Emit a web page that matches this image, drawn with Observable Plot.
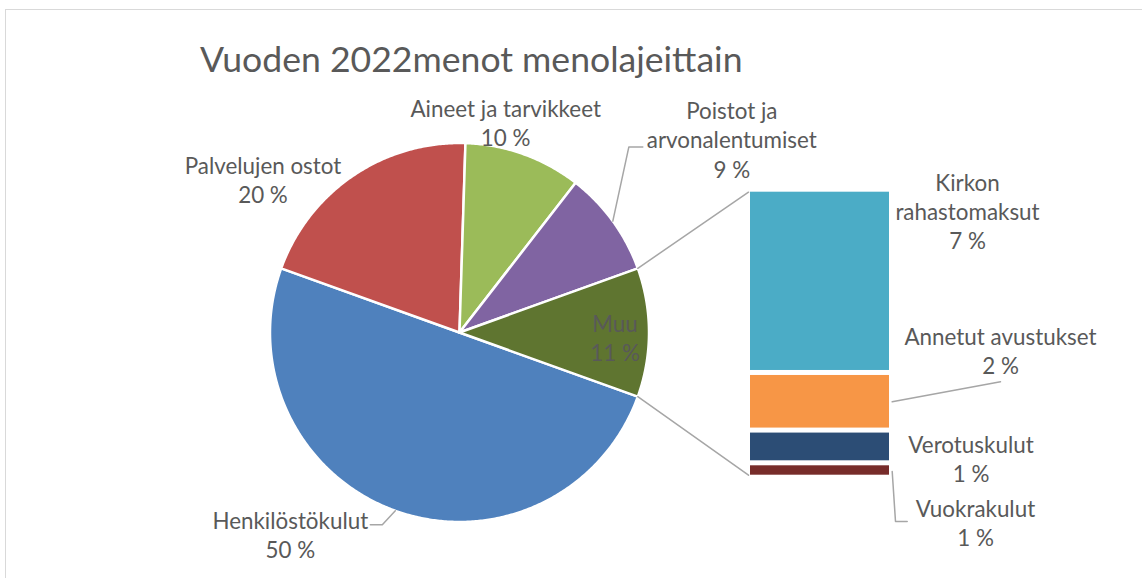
<!DOCTYPE html>
<html><head><meta charset="utf-8">
<script src="https://cdn.jsdelivr.net/npm/d3@7"></script>
<script src="https://cdn.jsdelivr.net/npm/@observablehq/plot@0.6"></script>
<style>
body{margin:0;background:#fff;}
#wrap{position:relative;width:1142px;height:578px;overflow:hidden;background:#fff;}
#border{position:absolute;left:5px;top:9px;width:1160px;height:620px;border:1.5px solid #d9d9d9;box-sizing:border-box;}
#title{position:absolute;left:200px;top:40.5px;font-family:Lato;font-size:35.6px;line-height:35.6px;color:#595959;white-space:nowrap;}
#chart{position:absolute;left:0;top:0;}
</style></head><body>
<div id="wrap"><div id="border"></div><div id="chart"></div><div id="title">Vuoden 2022menot menolajeittain</div></div>
<script>
// ---- data ----
const pieNames  = ["Henkilöstökulut","Palvelujen ostot","Aineet ja tarvikkeet","Poistot ja arvonalentumiset","Muu"];
const pieLabels = ["Henkilöstökulut","Palvelujen ostot","Aineet ja tarvikkeet","Poistot ja\narvonalentumiset","Muu"];
const pieValues = [50, 20, 10, 9, 11];
const barNames  = ["Kirkon rahastomaksut","Annetut avustukset","Verotuskulut","Vuokrakulut"];
const barLabels = ["Kirkon\nrahastomaksut","Annetut avustukset","Verotuskulut","Vuokrakulut"];
const barValues = [7.0, 2.2, 1.25, 0.55];

// ---- styles / layout ----
const pieColors = ["#4F81BD","#C0504D","#9BBB59","#8064A2","#5F7530"];
const barColors = ["#4BACC6","#F79646","#2C4D75","#772C2A"];
const W = 1142, H = 578, CX = 459, CY = 332, R = 189.5;
const BAR = {left: 750, right: 889, top: 189.2, bottom: 477.2, gap: 2.5};
// label offsets (pixels) from slice arc midpoint / bar segment right-edge midpoint
const pieLabelOff = [[-105, 23], [-90, 3], [-18, -32], [119, -82], [-34, 4.5]];
const barLabelOff = [[78, -71], [111, -52], [81.5, 11.6], [86, 51.7]];
const pieLeaderOff = {0: [[-13, 14], [-25, 14]], 3: [[16, -74], [30, -74]]};
const barLeaderOff = {1: [[2.7, 0], [111, -20]], 3: [[2.7, 1], [6, 51], [17.7, 51]]};

const toU = (px, py) => [(px - CX) / R, (CY - py) / R];
const pieData = pieNames.map((n, i) => ({name: n, label: pieLabels[i], value: pieValues[i]}));
const barData = barNames.map((n, i) => ({name: n, label: barLabels[i], value: barValues[i]}));
const total = d3.sum(pieValues);
const muu = pieData[4];

const start = Math.PI / 2 + Math.PI * muu.value / total;
const arcs = d3.pie().sort(null).value(d => d.value).startAngle(start).endAngle(start + 2 * Math.PI)(pieData);

const slicePts = arcs.flatMap(a => {
  const n = Math.max(2, Math.ceil((a.endAngle - a.startAngle) / (Math.PI / 360)));
  const pts = [{name: a.data.name, x: 0, y: 0}];
  for (let i = 0; i <= n; i++) {
    const t = a.startAngle + (a.endAngle - a.startAngle) * i / n;
    pts.push({name: a.data.name, x: Math.sin(t), y: Math.cos(t)});
  }
  return pts;
});

// pie labels
const labels = [];
const leaders = [];
arcs.forEach((a, i) => {
  const m = (a.startAngle + a.endAngle) / 2;
  const ax = Math.sin(m), ay = Math.cos(m);
  const [ox, oy] = pieLabelOff[i];
  labels.push({x: ax + ox / R, y: ay - oy / R, text: a.data.label + "\n" + Math.round(a.data.value) + " %"});
  if (pieLeaderOff[i]) {
    const pts = [{id: "p" + i, x: ax, y: ay}];
    pieLeaderOff[i].forEach(([dx, dy]) => pts.push({id: "p" + i, x: ax + dx / R, y: ay - dy / R}));
    leaders.push(...pts);
  }
});

// bar segments (stacked bottom-up), total height = Muu slice
const [xL, yT] = toU(BAR.left, BAR.top);
const [xR, yB] = toU(BAR.right, BAR.bottom);
const k = (yT - yB) / muu.value;
let cum = 0;
const segs = barData.slice().reverse().map(d => {
  const s = {name: d.name, label: d.label, value: d.value, y1: yB + cum * k, y2: yB + (cum + d.value) * k};
  cum += d.value;
  return s;
}).reverse();
segs.forEach((s, i) => {
  const ym = (s.y1 + s.y2) / 2;
  const [ox, oy] = barLabelOff[i];
  labels.push({x: xR + ox / R, y: ym - oy / R, text: s.label + "\n" + Math.round(s.value) + " %"});
  if (barLeaderOff[i]) {
    barLeaderOff[i].forEach(([dx, dy]) => leaders.push({id: "b" + i, x: xR + dx / R, y: ym - dy / R}));
  }
});

// connectors from Muu slice edges to bar corners
const muuArc = arcs[4];
const g = BAR.gap / R;
const connectors = [
  {id: "c0", x: Math.sin(muuArc.startAngle), y: Math.cos(muuArc.startAngle)}, {id: "c0", x: xL - 2 / R, y: yT - g},
  {id: "c1", x: Math.sin(muuArc.endAngle), y: Math.cos(muuArc.endAngle)}, {id: "c1", x: xL - 2 / R, y: yB + g}
];

const chart = Plot.plot({
  width: W, height: H,
  margin: 0,
  x: {domain: [(0 - CX) / R, (W - CX) / R], axis: null},
  y: {domain: [(CY - H) / R, CY / R], axis: null},
  color: {domain: [...pieNames, ...barNames], range: [...pieColors, ...barColors]},
  style: {background: "transparent"},
  marks: [
    Plot.line(slicePts, {x: "x", y: "y", z: "name", fill: "name", stroke: "white", strokeWidth: 2.5, curve: "linear-closed"}),
    Plot.rect(segs, {x1: xL, x2: xR, y1: "y1", y2: "y2", fill: "name", insetTop: BAR.gap, insetBottom: BAR.gap}),
    Plot.line(connectors, {x: "x", y: "y", z: "id", stroke: "#A6A6A6", strokeWidth: 1.5}),
    Plot.line(leaders, {x: "x", y: "y", z: "id", stroke: "#A6A6A6", strokeWidth: 1.5}),
    Plot.text(labels, {x: "x", y: "y", text: "text", fill: "#595959", fontSize: 22.4, fontFamily: "Lato", lineHeight: 1.3, textAnchor: "middle"})
  ]
});
document.getElementById("chart").appendChild(chart);
</script>
</body></html>
